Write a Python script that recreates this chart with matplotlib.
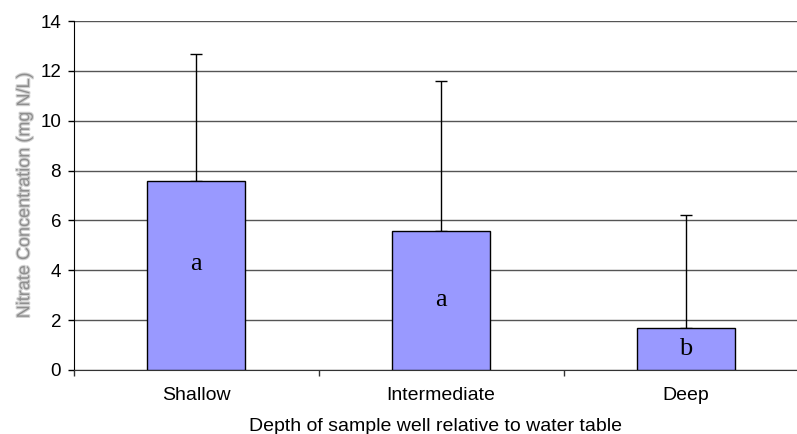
import numpy as np
import matplotlib
matplotlib.use("Agg")
import matplotlib.pyplot as plt
import matplotlib.patheffects as pe

depths = ["Shallow", "Intermediate", "Deep"]
nitrate_mean = [7.58, 5.58, 1.68]
nitrate_err = [5.1, 6.02, 4.54]
groups = ["a", "a", "b"]
group_y = [4.25, 2.8, 0.85]

plt.rcParams['font.family'] = ['Liberation Sans', 'DejaVu Sans']

fig = plt.figure(figsize=(7.97, 4.34), dpi=100)
ax = fig.add_axes([73.5 / 797, 64 / 434, (797 - 73.5) / 797, (370 - 21) / 434])

x = np.arange(len(depths))
lower = np.zeros(len(depths))
ax.bar(x, nitrate_mean, width=0.4, color="#9999ff", edgecolor="black",
       linewidth=1, zorder=3)
ax.errorbar(x, nitrate_mean, yerr=[lower, nitrate_err], fmt="none",
            ecolor="black", elinewidth=1, capsize=4.3, capthick=1, zorder=2)

for xi, g, gy in zip(x, groups, group_y):
    ax.text(xi, gy, g, ha="center", va="center", fontsize=19,
            family="Liberation Serif", zorder=4)

ax.set_ylim(0, 14)
ax.set_yticks(np.arange(0, 15, 2))
ax.set_xlim(-0.5, (797 - 73.5) / 245 - 0.5)
ax.set_xticks(x)
ax.set_xticklabels(depths)
ax.set_xticks([-0.5, 0.5, 1.5], minor=True)
ax.tick_params(axis="x", which="major", length=0, labelsize=14, pad=12)
ax.tick_params(axis="x", which="minor", length=4, width=1, color="#333333")
ax.tick_params(axis="y", length=4, width=1, labelsize=13.5, pad=5)

ax.grid(axis="y", color="#555555", linewidth=1, zorder=0)
ax.set_axisbelow(True)
for side in ["top", "right"]:
    ax.spines[side].set_visible(False)
ax.spines["left"].set_color("black")
ax.spines["bottom"].set_color("#333333")

ax.set_xlabel("Depth of sample well relative to water table", fontsize=14,
              labelpad=10)
ylab = ax.set_ylabel("Nitrate Concentration (mg N/L)", fontsize=13,
                     color="#8f8f8f", labelpad=5)
ylab.set_path_effects([pe.withStroke(linewidth=1.6, foreground="#d2d2d2")])

fig.savefig("out.png", dpi=100)
